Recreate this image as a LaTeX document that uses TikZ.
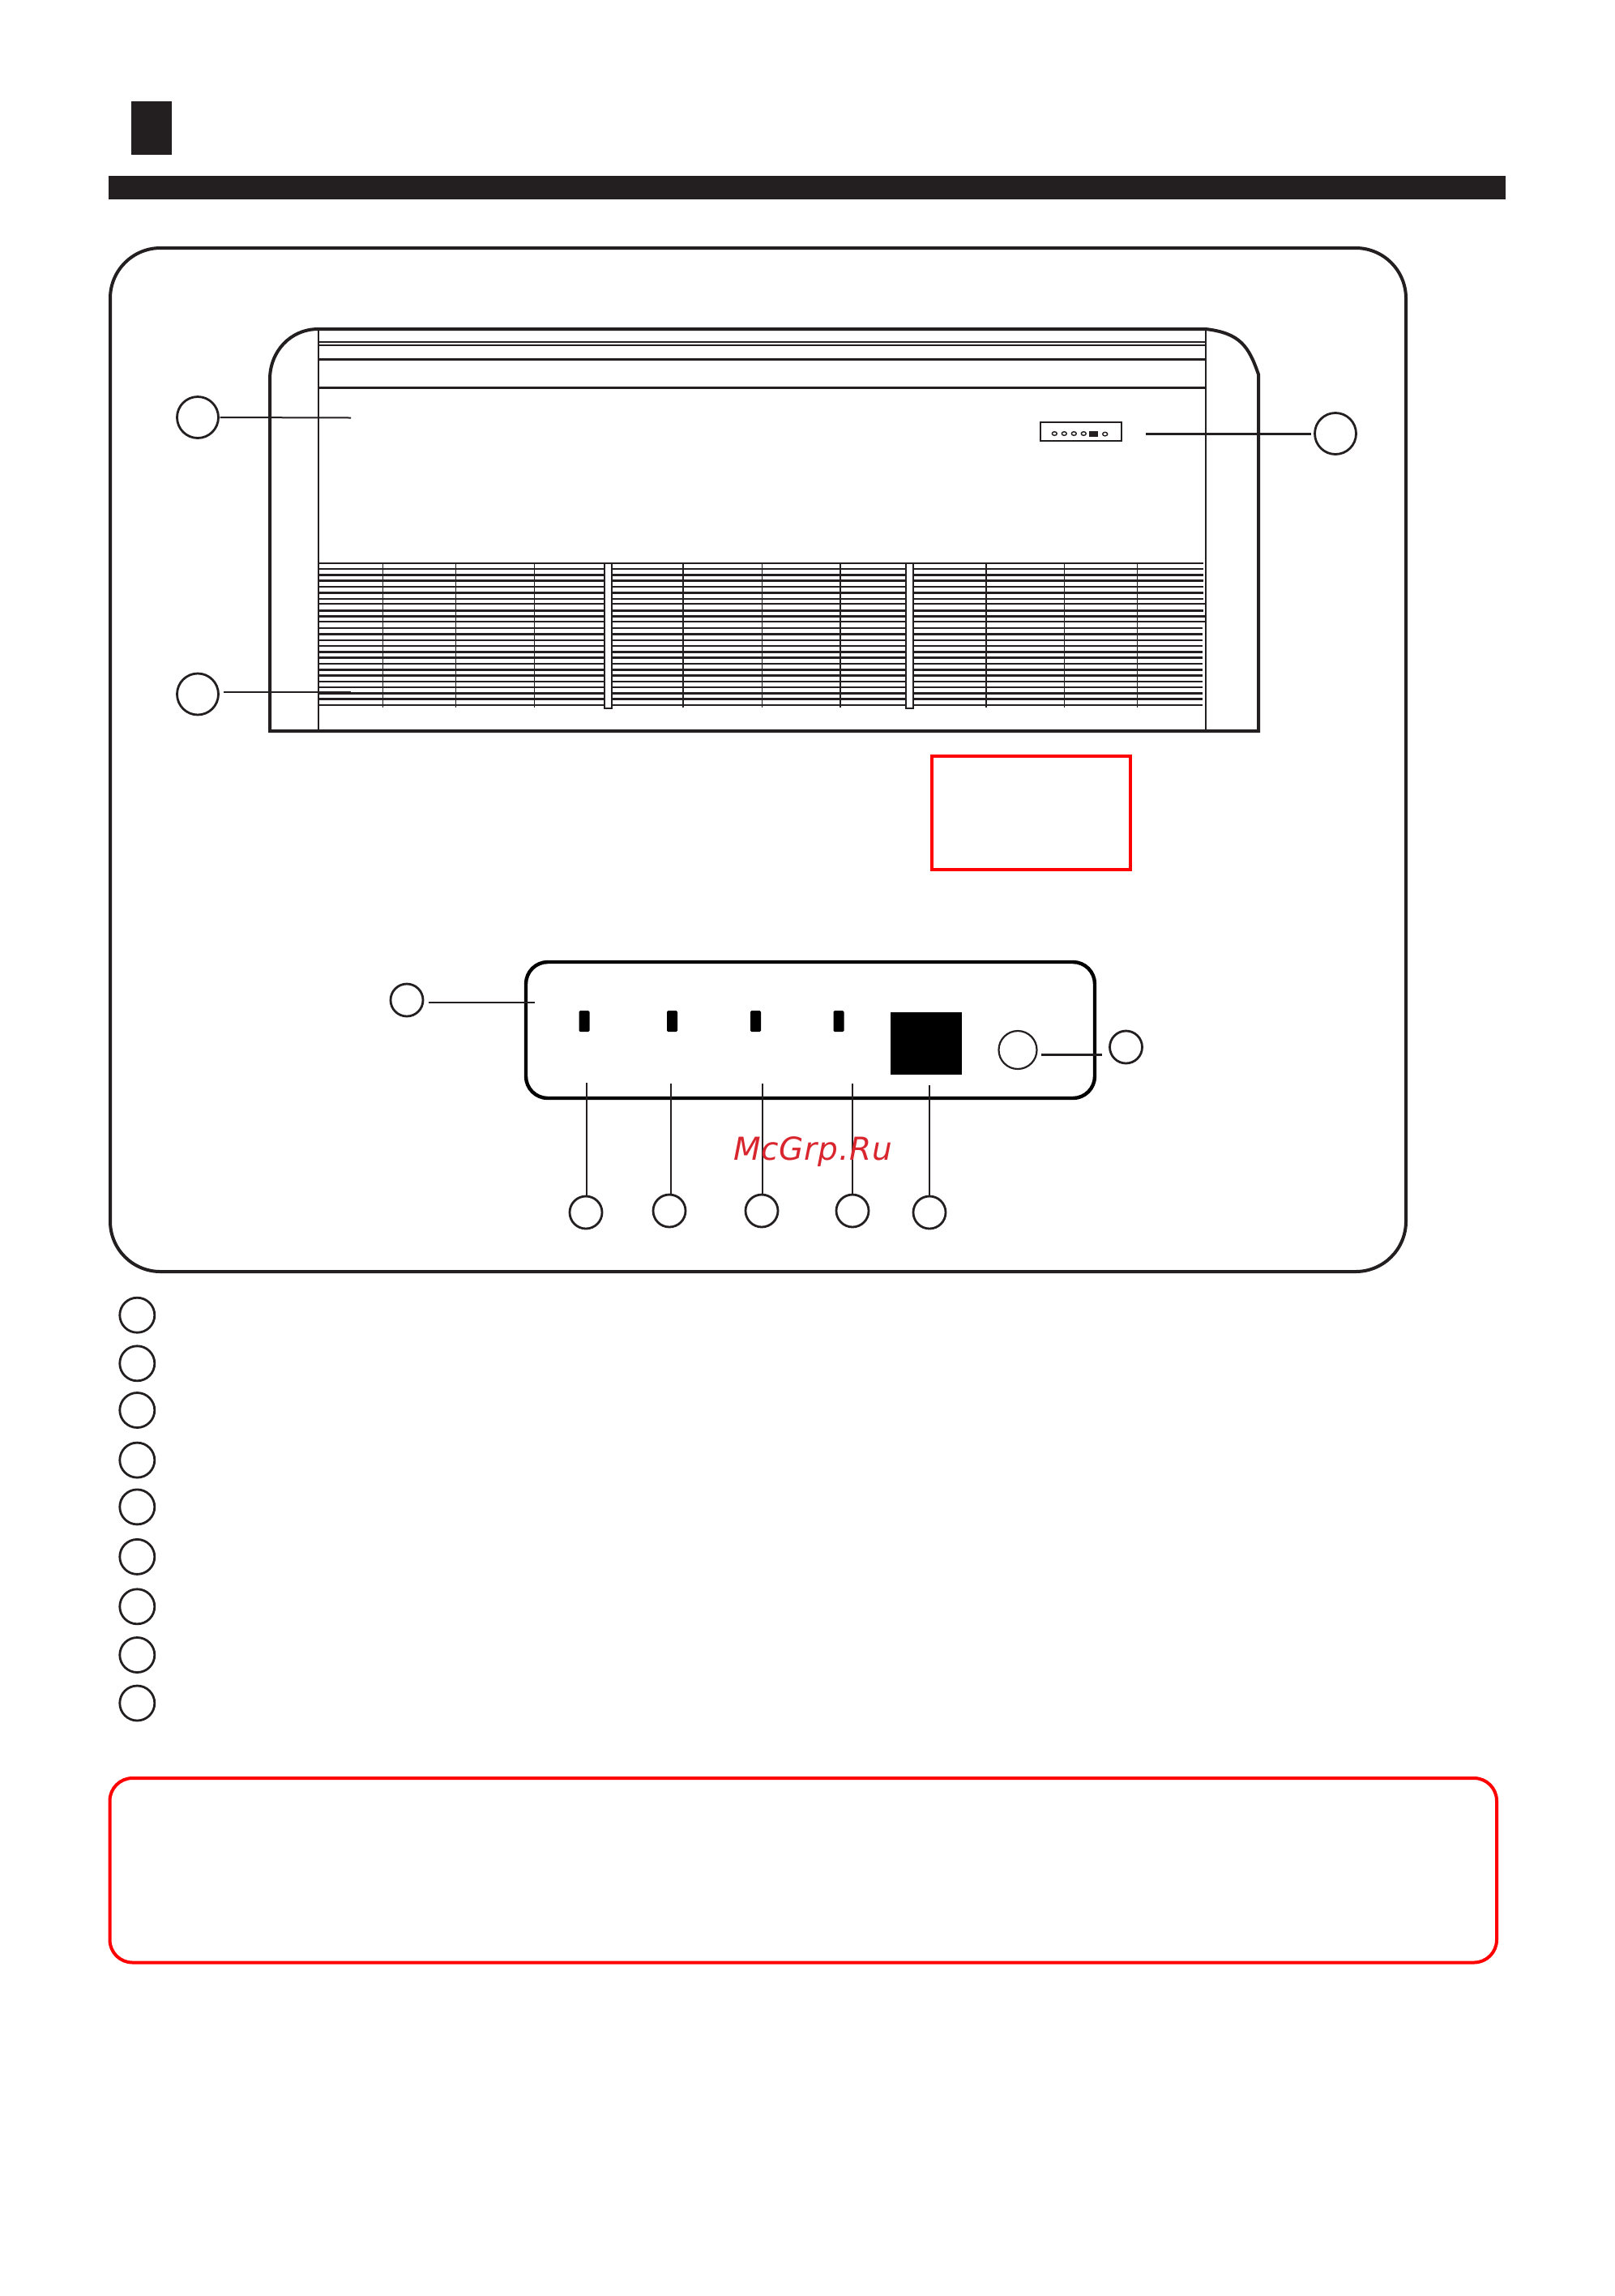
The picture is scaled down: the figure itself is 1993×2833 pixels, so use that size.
\documentclass[tikz,border=0pt]{standalone}
\usepackage{fontspec}
\setmainfont{DejaVu Sans}
\definecolor{ink}{HTML}{231F20}
\definecolor{alarm}{HTML}{FF0000}
\definecolor{mark}{HTML}{D9262E}
\tikzset{
  ink line/.style={draw=ink,line width=#1},
  ink line/.default=2pt,
  bub/.style={circle,draw=ink,line width=2.8pt,inner sep=0pt,outer sep=0pt,minimum size=#1},
  bub/.default=40pt,
  leader/.style={draw=ink,line width=#1},
  leader/.default=2pt,
  led/.style={fill=black,rounded corners=1.5pt},
  redbox/.style={draw=alarm,line width=4pt},
  louvre/.style={draw=ink,line cap=butt},
  tiny/.style={draw=ink,line width=1.4pt,fill=white},
}
\begin{document}
\begin{tikzpicture}[x=1pt,y=-1pt]
\useasboundingbox (0,0) rectangle (1993,2833);
\fill[white] (0,0) rectangle (1993,2833);
% header
\fill[ink] (162,124.5) rectangle (212,190.5);
\fill[ink] (134,217) rectangle (1858,245.5);
% main frame
\draw[ink line=4pt,rounded corners=62pt] (136,306) rectangle (1735,1569);
% unit body
\draw[ink line=4pt] (393,406) .. controls (358,406) and (333,434) .. (333,468) -- (333,902) -- (1553,902) -- (1553,462) .. controls (1541,427) and (1530,411) .. (1488,406) -- cycle;
\draw[ink line=2.4pt] (393,406) -- (393,902) (1488,406) -- (1488,902);
\foreach \yy/\w in {422/2.4,426/2.8,443.4/2.4,478.5/2.8}
  \draw[ink line=\w pt] (393,\yy) -- (1488,\yy);
% louvres
\foreach \yy/\w/\e in {695/1.8/1485,702/2.5/1485,709.3/2.7/1485,716.7/2.5/1485,724/2.1/1485,731.7/2.5/1485,738.7/2.1/1485,745.3/2.1/1488,753.3/2.5/1485,760.3/2.7/1488,767.3/2.3/1488,775/2.3/1484,782.3/2.9/1484,789.7/2.3/1484,797/2.3/1484,804.3/2.9/1484,811.3/2.9/1484,819/2.1/1484,826.3/2.9/1484,833.7/2.9/1484,841/2.3/1484,848.3/2.3/1484,855.3/3.1/1484,862.7/3.1/1484,870/2.3/1484}
  \draw[louvre,line width=\w pt] (393,\yy) -- (\e,\yy);
\foreach \xx in {472.3,562.3,659.3,842.7,940.3,1037,1216.7,1313.3,1403.3}
  \draw[ink line=1.6pt] (\xx,695) -- (\xx,873);
\foreach \xx in {745.5,1117.5}
  \draw[ink line=2pt,fill=white] (\xx,695) rectangle (\xx+9.8,874);
% mini controller
\draw[ink line=2pt] (1284.3,521) rectangle (1384.3,544);
\foreach \xx in {1301.3,1313.3,1325.3,1337.3}
  \draw[tiny] (\xx,535) ellipse (3pt and 2.3pt);
\fill[ink] (1344.3,532) rectangle (1355,539);
\draw[tiny] (1363.7,535.6) ellipse (3pt and 2.3pt);
% callouts on the unit
\node[bub=51pt] (ca) at (244,515) {};
\node[bub=51pt] (cb) at (244,856.5) {};
\node[bub=51pt] (cc) at (1648,535) {};
\coordinate (ea) at (433,515.5);
\coordinate (eb) at (433,854);
\coordinate (ec) at (1414,535.5);
\path[leader=2pt,shorten <=2pt] (ca.east) -- (ea);
\path[leader=2.6pt,shorten <=6pt] (cb.east |- eb) -- (eb);
\path[leader=3.4pt,shorten <=5pt] (cc.west |- ec) -- (ec);
% red notice box
\draw[redbox] (1150,933) rectangle (1395,1073);
% control panel
\draw[draw=black,line width=4.4pt,rounded corners=27pt] (649,1187) rectangle (1351,1355);
\foreach \xx in {721,829.5,932.5,1035}
  \fill[led] (\xx-6.5,1247) rectangle (\xx+6.5,1273);
\fill[black] (1098.5,1249) rectangle (1187,1326);
\node[bub=47pt,line width=2.2pt] (pb) at (1256,1295.5) {};
\node[bub=40pt] (pr) at (1389.5,1292) {};
\node[bub=40pt] (pl) at (502,1234) {};
\coordinate (per) at (1285,1301.5);
\coordinate (pel) at (660,1237);
\path[leader=2.4pt,shorten <=10pt] (pr.west |- per) -- (per);
\path[leader=2.2pt,shorten <=7pt] (pl.east |- pel) -- (pel);
\foreach \n/\xx/\yy/\tx/\ty in {b1/723/1496/724/1336,b2/826/1494/827.5/1337,b3/940/1494/940.5/1337,b4/1052/1494/1052/1337,b5/1147/1496/1146.5/1339}{
  \node[bub=40pt] (\n) at (\xx,\yy) {};
  \coordinate (t\n) at (\tx,\ty);
  \path[leader=2pt,shorten <=1pt] (\n.north -| t\n) -- (t\n);
}
% watermark
\node[text=mark,font=\fontsize{39}{39}\selectfont\itshape,inner sep=0pt] (wm) at (1003,1421) {\addfontfeature{LetterSpace=2}McGrp.Ru};
% list bullets
\foreach \n/\yy in {1/1622.7,2/1682.3,3/1740,4/1801.6,5/1859.4,6/1920.9,7/1982.3,8/2042,9/2101.5}
  \node[bub=43pt] (li\n) at (169.3,\yy) {};
% bottom notice
\draw[redbox,rounded corners=28pt] (135.5,2194) rectangle (1847,2421.5);
\end{tikzpicture}
\end{document}
